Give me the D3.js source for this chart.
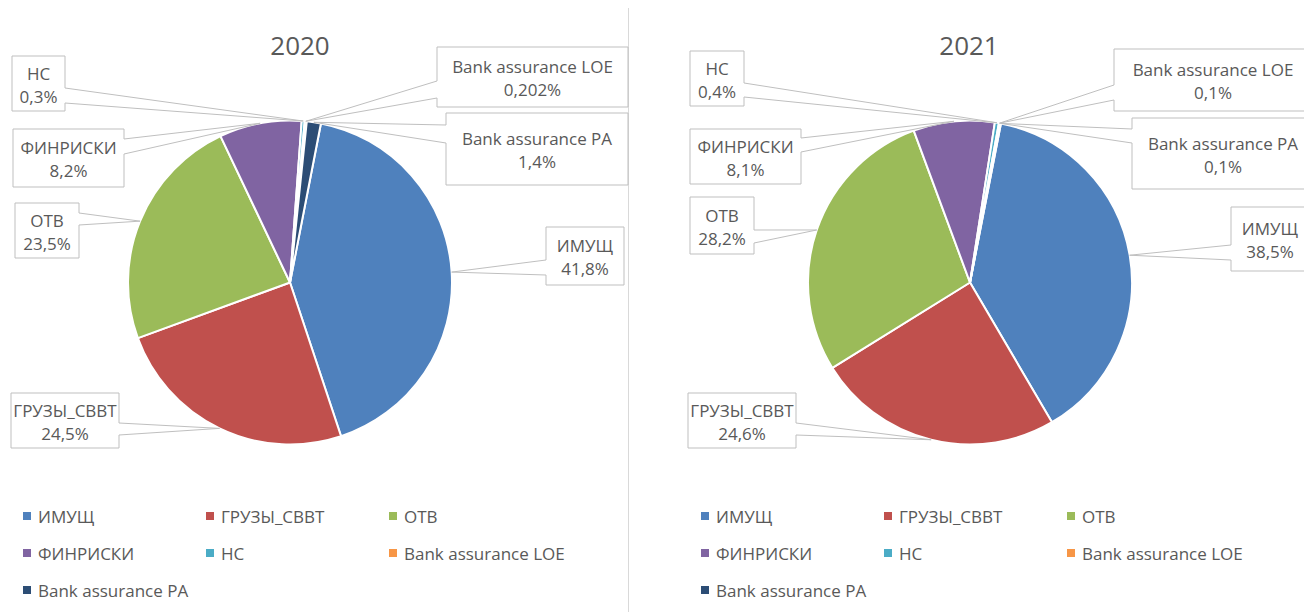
<!DOCTYPE html>
<html>
<head>
<meta charset="utf-8">
<script src="https://cdn.jsdelivr.net/npm/d3@7"></script>
<style>
  html, body { margin: 0; padding: 0; background: #fff; }
  svg { display: block; font-family: "Open Sans", sans-serif; }
</style>
</head>
<body>
<svg id="chart" width="1304" height="612"></svg>
<script>
// ===== Dữ liệu =====
const categories = ["ИМУЩ", "ГРУЗЫ_СВВТ", "ОТВ", "ФИНРИСКИ", "НС", "Bank assurance LOE", "Bank assurance PA"];
const years = ["2020", "2021"];
const values2020 = [41.8, 24.5, 23.5, 8.2, 0.3, 0.202, 1.4];
const values2021 = [38.5, 24.6, 28.2, 8.1, 0.4, 0.1, 0.1];

// ===== Màu & bố cục =====
const palette = ["#4F81BD", "#C0504D", "#9BBB59", "#8064A2", "#4BACC6", "#F79646", "#2C4D75"];
const textColor = "#595959";
const lineColor = "#BFBFBF";
const firstSliceDeg = 11;

// callout: [x, y, w, h, side of wedge, wedge y1, wedge y2]
const panels = [
  {
    year: years[0], values: values2020, cx: 290, cy: 282.5, r: 162, titleX: 300, legendX: 27,
    callouts: [
      [546, 227, 78, 58, "left", 260, 275],
      [11, 393, 108, 55, "right", 423, 435],
      [15, 203, 64, 55, "right", 213, 225],
      [13, 129, 111, 58, "right", 139, 154],
      [12, 56, 53, 55, "right", 88, 103],
      [437, 47, 191, 60, "left", 81, 98],
      [446, 113, 182, 72, "left", 125, 143]
    ]
  },
  {
    year: years[1], values: values2021, cx: 970, cy: 282.5, r: 162, titleX: 969, legendX: 705,
    callouts: [
      [1231, 207, 78, 64, "left", 245, 260],
      [688, 393, 108, 55, "right", 423, 435],
      [690, 197, 64, 57, "right", 230, 243],
      [690, 129, 111, 55, "right", 138, 152],
      [690, 51, 54, 55, "right", 83, 97],
      [1114, 49, 198, 62, "left", 85, 100],
      [1132, 118, 182, 71, "left", 129, 143]
    ]
  }
];

const fmtPct = v => String(v).replace(".", ",") + "%";

const svg = d3.select("#chart");

// đường chia giữa hai biểu đồ
svg.append("line")
  .attr("x1", 628.5).attr("x2", 628.5)
  .attr("y1", 8).attr("y2", 612)
  .attr("stroke", "#D9D9D9");

const color = d3.scaleOrdinal().domain(categories).range(palette);

function drawPanel(p) {
  const g = svg.append("g");
  const start = firstSliceDeg * Math.PI / 180;

  const pie = d3.pie()
    .sort(null)
    .startAngle(start)
    .endAngle(start + 2 * Math.PI)
    .value(d => d.value);

  const data = pie(categories.map((c, i) => ({ cat: c, value: p.values[i] })));
  const arc = d3.arc().innerRadius(0).outerRadius(p.r);

  // tiêu đề
  g.append("text")
    .attr("x", p.titleX).attr("y", 55)
    .attr("text-anchor", "middle")
    .style("font-size", "26px")
    .style("fill", textColor)
    .text(p.year);

  // lát bánh
  g.append("g")
    .attr("transform", `translate(${p.cx},${p.cy})`)
    .selectAll("path")
    .data(data)
    .join("path")
      .attr("d", arc)
      .attr("fill", d => color(d.data.cat))
      .attr("stroke", "#fff")
      .attr("stroke-width", 2)
      .attr("stroke-linejoin", "round");

  // nhãn dạng callout
  const callG = g.append("g");
  data.forEach((d, i) => {
    const [bx, by, bw, bh, side, w1, w2] = p.callouts[i];
    const mid = (d.startAngle + d.endAngle) / 2;
    const tx = p.cx + p.r * Math.sin(mid);
    const ty = p.cy - p.r * Math.cos(mid);
    let path;
    if (side === "right") {
      const xr = bx + bw;
      path = `M${bx},${by}H${xr}V${w1}L${tx},${ty}L${xr},${w2}V${by + bh}H${bx}Z`;
    } else {
      path = `M${bx},${by}H${bx + bw}V${by + bh}H${bx}V${w2}L${tx},${ty}L${bx},${w1}Z`;
    }
    callG.append("path")
      .attr("d", path)
      .attr("fill", "#fff")
      .attr("stroke", lineColor)
      .attr("stroke-width", 1);

    const cxText = bx + bw / 2;
    const cyBox = by + bh / 2;
    callG.append("text")
      .attr("x", cxText).attr("y", cyBox - 4)
      .attr("text-anchor", "middle")
      .style("font-size", "17px")
      .style("fill", textColor)
      .text(d.data.cat);
    callG.append("text")
      .attr("x", cxText).attr("y", cyBox + 19)
      .attr("text-anchor", "middle")
      .style("font-size", "17px")
      .style("fill", textColor)
      .text(fmtPct(d.data.value));
  });

  // chú giải
  const leg = g.append("g");
  categories.forEach((c, i) => {
    const col = i % 3, row = Math.floor(i / 3);
    const lx = p.legendX + col * 183;
    const ly = 516 + row * 37;
    leg.append("rect")
      .attr("x", lx - 4).attr("y", ly - 4)
      .attr("width", 8).attr("height", 8)
      .attr("fill", color(c));
    leg.append("text")
      .attr("x", lx + 11).attr("y", ly)
      .attr("dominant-baseline", "central")
      .style("font-size", "17px")
      .style("fill", textColor)
      .text(c);
  });
}

panels.forEach(drawPanel);
</script>
</body>
</html>
